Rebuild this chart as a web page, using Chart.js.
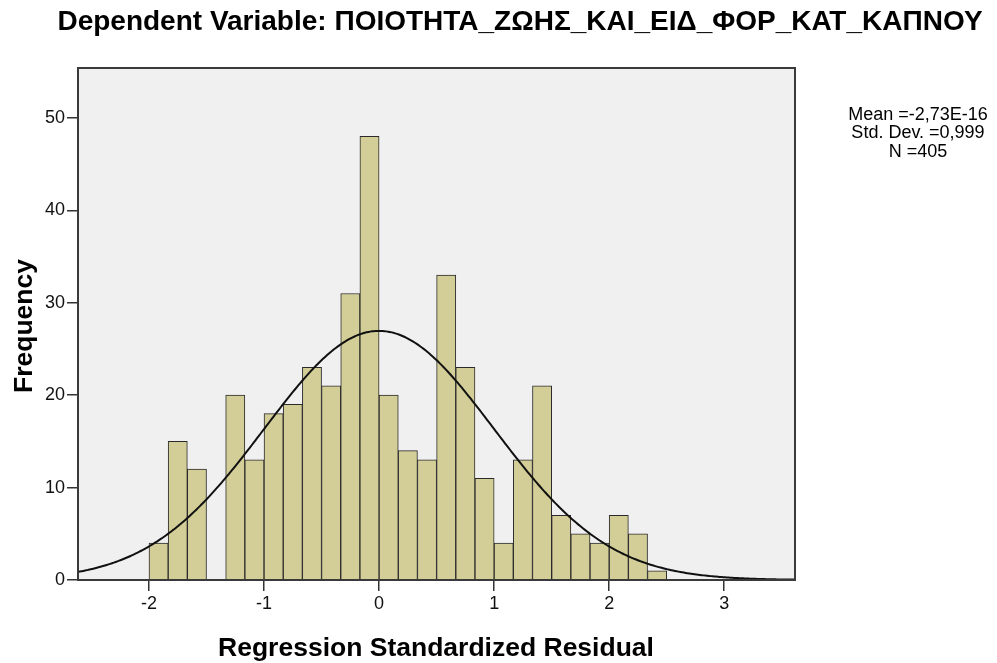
<!DOCTYPE html>
<html>
<head>
<meta charset="utf-8">
<script src="https://cdn.jsdelivr.net/npm/chart.js@4/dist/chart.umd.min.js"></script>
<style>
  html, body { margin: 0; padding: 0; background: #ffffff; }
  #wrap { width: 997px; height: 663px; }
</style>
</head>
<body>
<div id="wrap"><canvas id="chart" width="997" height="663"></canvas></div>
<script>
// Histogram of regression standardized residuals, bins of width 1/6 starting at -2
const binStart = -2;
const binWidth = 1 / 6;
const frequencies = [4, 15, 12, 0, 20, 13, 18, 19, 23, 21, 31, 48, 20, 14, 13, 33, 23, 11, 4, 13, 21, 7, 5, 4, 7, 5, 1];

// Axis ticks
const xTicks = [-2, -1, 0, 1, 2, 3];
const yTicks = [0, 10, 20, 30, 40, 50];

// Summary statistics shown beside the plot (used for the normal curve)
const statMean = -2.73e-16;
const statSd = 0.999;
const statN = 405;
const statLines = ['Mean =-2,73E-16', 'Std. Dev. =0,999', 'N =405'];

// Texts
const titleText = 'Dependent Variable: ΠΟΙΟΤΗΤΑ_ΖΩΗΣ_ΚΑΙ_ΕΙΔ_ΦΟΡ_ΚΑΤ_ΚΑΠΝΟΥ';
const xTitle = 'Regression Standardized Residual';
const yTitle = 'Frequency';

// Axis ranges
const xMin = -2.617, xMax = 3.615;
const yMin = 0, yMax = 55.4;

const barPoints = frequencies.map((f, i) => ({ x: binStart + binWidth * (i + 0.5), y: f }));

// Normal density scaled to counts per bin
const curvePoints = [];
for (let k = 0; k <= 400; k++) {
  const x = xMin + (xMax - xMin) * k / 400;
  const z = (x - statMean) / statSd;
  const y = statN * binWidth * Math.exp(-0.5 * z * z) / (statSd * Math.sqrt(2 * Math.PI));
  curvePoints.push({ x, y });
}

const FONT = "'Liberation Sans', Arial, sans-serif";

const framePlugin = {
  id: 'frame',
  beforeDatasetsDraw(chart) {
    const a = chart.chartArea, c = chart.ctx;
    c.save();
    c.fillStyle = '#f0f0f0';
    c.fillRect(a.left, a.top, a.right - a.left, a.bottom - a.top);
    c.restore();
  },
  afterDatasetsDraw(chart) {
    const a = chart.chartArea, c = chart.ctx;
    c.save();
    c.strokeStyle = '#3a3a3a';
    c.lineWidth = 2;
    c.strokeRect(a.left, a.top, a.right - a.left, a.bottom - a.top);
    c.restore();
  }
};

const textPlugin = {
  id: 'texts',
  afterDraw(chart) {
    const c = chart.ctx;
    c.save();
    c.fillStyle = '#000';
    c.textAlign = 'center';
    c.textBaseline = 'alphabetic';

    c.font = 'bold 28px ' + FONT;
    c.fillText(titleText, 520, 30);

    c.font = 'bold 26.5px ' + FONT;
    c.fillText(xTitle, 436, 656);

    c.save();
    c.translate(32, 326);
    c.rotate(-Math.PI / 2);
    c.fillText(yTitle, 0, 0);
    c.restore();

    c.font = '18px ' + FONT;
    c.textBaseline = 'middle';
    statLines.forEach((t, i) => c.fillText(t, 918, 115 + i * 18.5));
    c.restore();
  }
};

new Chart(document.getElementById('chart'), {
  type: 'bar',
  data: {
    datasets: [
      {
        type: 'line',
        data: curvePoints,
        borderColor: '#111',
        borderWidth: 2,
        pointRadius: 0,
        tension: 0,
        order: 0
      },
      {
        type: 'bar',
        data: barPoints,
        backgroundColor: '#d3ce97',
        borderColor: '#2a2a2a',
        borderWidth: ctx => (ctx.raw && ctx.raw.y === 0 ? 0 : 1),
        barPercentage: 1,
        categoryPercentage: 1,
        order: 1
      }
    ]
  },
  options: {
    responsive: false,
    animation: false,
    devicePixelRatio: 1,
    layout: { padding: { left: 0, top: 68, right: 202, bottom: 0 } },
    plugins: { legend: { display: false }, tooltip: { enabled: false }, title: { display: false } },
    scales: {
      x: {
        type: 'linear',
        offset: false,
        min: xMin,
        max: xMax,
        afterBuildTicks: s => { s.ticks = xTicks.map(v => ({ value: v })); },
        afterFit: s => { s.height = 83; },
        grid: { offset: false, drawOnChartArea: false, tickLength: 11, color: '#333', lineWidth: 1.5 },
        border: { display: false },
        ticks: { color: '#111', padding: 2, maxRotation: 0, font: { family: FONT, size: 18 } }
      },
      y: {
        type: 'linear',
        min: yMin,
        max: yMax,
        afterBuildTicks: s => { s.ticks = yTicks.map(v => ({ value: v })); },
        afterFit: s => { s.width = 78; },
        grid: { drawOnChartArea: false, tickLength: 11, color: '#333', lineWidth: 1.5 },
        border: { display: false },
        ticks: { color: '#111', padding: 2, font: { family: FONT, size: 18 } }
      }
    }
  },
  plugins: [framePlugin, textPlugin]
});
</script>
</body>
</html>
